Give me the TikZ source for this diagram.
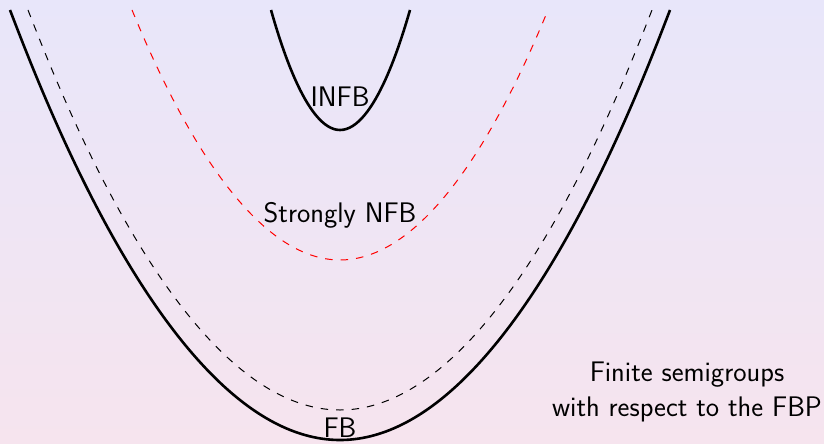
\documentclass[tikz,border=0pt]{standalone}
\begin{document}
\begin{tikzpicture}[x=1pt,y=-1pt,
  lbl/.style={font=\sffamily\fontsize{28.3}{35}\selectfont, inner sep=0pt, text=black},
  solidcurve/.style={line width=2.6pt, black},
  dashcurve/.style={line width=1pt, black, dash pattern=on 7.5pt off 8pt},
  reddash/.style={line width=1pt, red, dash pattern=on 7.5pt off 8pt}]
\shade[top color={rgb,255:red,232;green,230;blue,250}, bottom color={rgb,255:red,246;green,228;blue,238}] (0,0) rectangle (824,444);
\useasboundingbox (0,0) rectangle (824,444);
\draw[solidcurve] (10,10) parabola bend (340,440) (670,10);
\draw[dashcurve] (28,10) parabola bend (340,410) (652,10);
\draw[reddash] (132,10) parabola bend (340,260) (548,10);
\draw[solidcurve] (271,10) parabola bend (340,130) (410,10);
\node[lbl] (infb) at (340,97) {INFB};
\node[lbl] (snfb) at (340,215) {Strongly NFB};
\node[lbl] (fb) at (340,428) {FB};
\node[lbl, align=center] (fin) at (687,392) {Finite semigroups\\with respect to the FBP};
\end{tikzpicture}
\end{document}
